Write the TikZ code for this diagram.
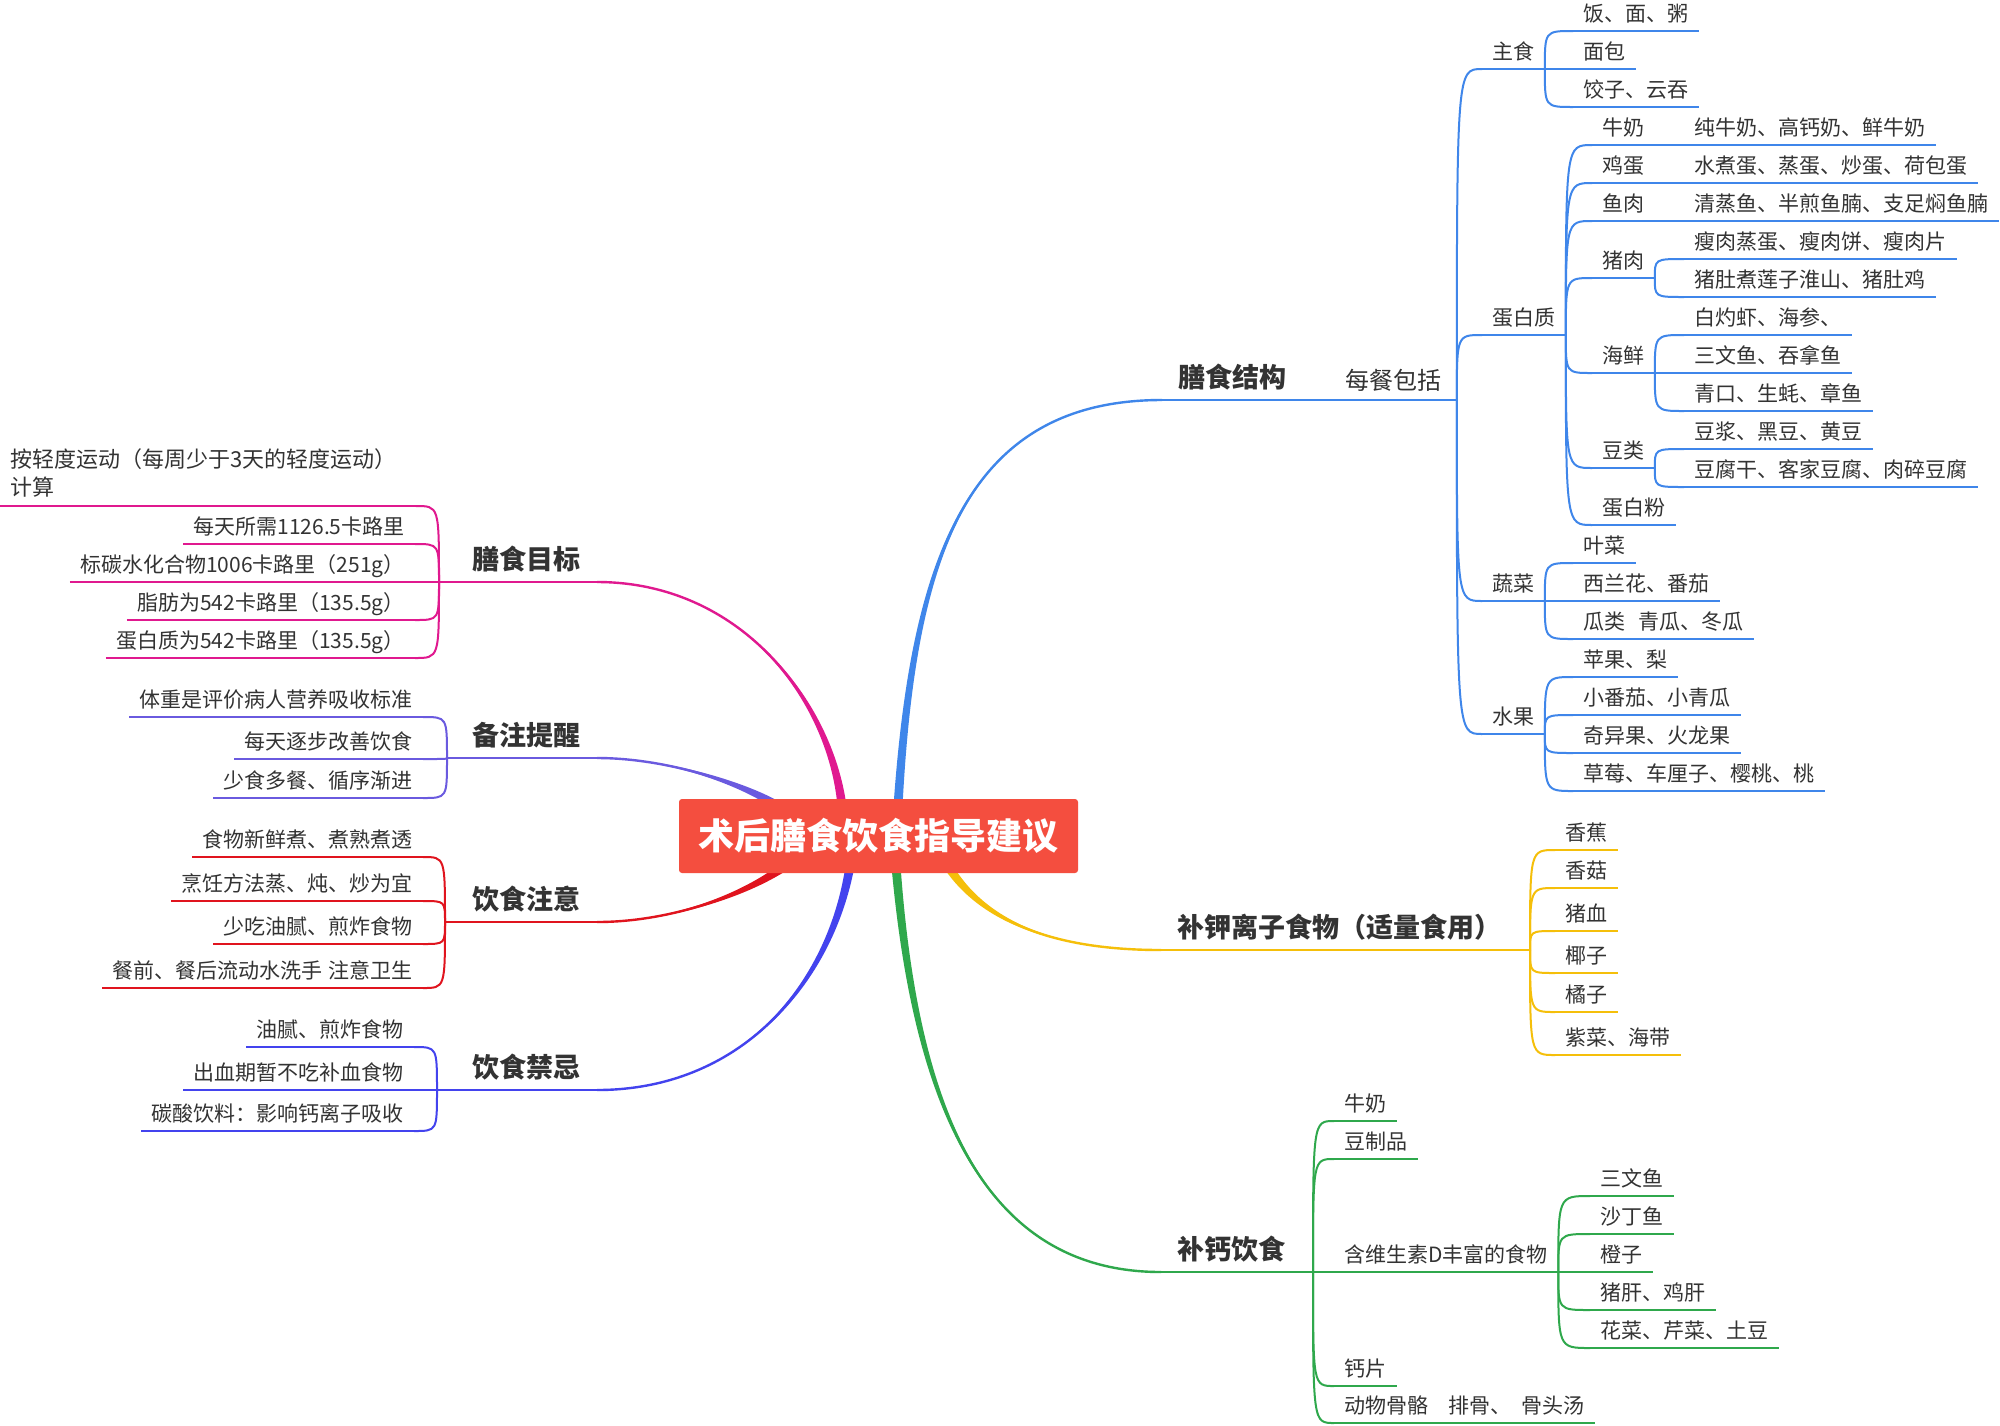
\documentclass[tikz,border=0pt]{standalone}
\usepackage{fontspec}
\setmainfont{Noto Sans CJK SC}
\usetikzlibrary{calc}
\pgfdeclarelayer{bg}
\pgfsetlayers{bg,main}
\definecolor{txt}{HTML}{333333}
\definecolor{cB}{HTML}{3F86EA}
\definecolor{cM}{HTML}{E0198F}
\definecolor{cP}{HTML}{6A5ADF}
\definecolor{cR}{HTML}{E0141E}
\definecolor{cV}{HTML}{4343EE}
\definecolor{cG}{HTML}{2FA84C}
\definecolor{cY}{HTML}{F5BF0A}
\definecolor{cRoot}{HTML}{F44E3F}
\tikzset{
 leaf/.style={font=\fontsize{10.5}{13}\selectfont, text=txt, inner xsep=5pt, inner ysep=0pt, text depth=4.5pt, anchor=south west},
 leafl/.style={leaf, anchor=south east},
 head/.style={font=\fontsize{13.5}{16}\selectfont\bfseries, text=txt, inner xsep=8pt, inner ysep=0pt, text depth=6.3pt},
 thinl/.style={line width=1pt},
}
\newcommand{\undl}[2]{\draw[thinl,#1] (#2.south west) -- (#2.south east);}
\newcommand{\fanc}[3]{\draw[thinl,#1] (#2) .. controls (#2 |- #3) .. (#3);}
\newcommand{\brnch}[6]{%
 \fill[#1] ($#2+#6$) .. controls ($#3+0.5*#6$) and #4 .. #5 .. controls #4 and ($#3-0.5*#6$) .. ($#2-#6$) -- cycle;
 \draw[#1, line width=1.2pt] #2 .. controls #3 and #4 .. #5;}
\begin{document}
\begin{tikzpicture}[x=0.5pt,y=-0.5pt]
\useasboundingbox (0,0) rectangle (2000,1425);
% root
\node[fill=cRoot, rounded corners=1.5pt, minimum width=199.5pt, minimum height=37pt, inner sep=0pt, text=white, font=\fontsize{18}{20}\selectfont\bfseries] (root) at (878.5,836) {术后膳食饮食指导建议};

% ===== blue: 膳食结构 =====
\node[head, anchor=south west] (h1) at (1162,400) {膳食结构};
\node[font=\fontsize{12}{14}\selectfont, text=txt, inner xsep=7.5pt, inner ysep=0pt, text depth=5pt, anchor=south west] (mc) at (1330,400) {每餐包括};
\undl{cB}{h1}\undl{cB}{mc}
\draw[thinl,cB] (h1.south east) -- (mc.south west);
\node[leaf] (zs) at (1482,69) {主食};
\node[leaf] (dbz) at (1482,335) {蛋白质};
\node[leaf] (sc) at (1482,601) {蔬菜};
\node[leaf] (sg) at (1482,734) {水果};
\foreach \n in {zs,dbz,sc,sg}{\undl{cB}{\n}\fanc{cB}{mc.south east}{\n.south west}}
% 主食
\node[leaf] (f1) at (1573,31) {饭、面、粥};
\node[leaf] (f2) at (1573,69) {面包};
\node[leaf] (f3) at (1573,107) {饺子、云吞};
\foreach \n in {f1,f2,f3}{\undl{cB}{\n}\fanc{cB}{zs.south east}{\n.south west}}
% 蛋白质
\node[leaf] (nn) at (1592,145) {牛奶};
\node[leaf] (jd) at (1592,183) {鸡蛋};
\node[leaf] (yr) at (1592,221) {鱼肉};
\node[leaf] (zr) at (1592,278) {猪肉};
\node[leaf] (hx) at (1592,373) {海鲜};
\node[leaf] (dl) at (1592,468) {豆类};
\node[leaf] (dbf) at (1592,525) {蛋白粉};
\foreach \n in {nn,jd,yr,zr,hx,dl,dbf}{\undl{cB}{\n}\fanc{cB}{dbz.south east}{\n.south west}}
\node[leaf] (nn1) at (1684,145) {纯牛奶、高钙奶、鲜牛奶};
\node[leaf] (jd1) at (1684,183) {水煮蛋、蒸蛋、炒蛋、荷包蛋};
\node[leaf] (yr1) at (1684,221) {清蒸鱼、半煎鱼腩、支足焖鱼腩};
\node[leaf] (zr1) at (1684,259) {瘦肉蒸蛋、瘦肉饼、瘦肉片};
\node[leaf] (zr2) at (1684,297) {猪肚煮莲子淮山、猪肚鸡};
\node[leaf] (hx1) at (1684,335) {白灼虾、海参、};
\node[leaf] (hx2) at (1684,373) {三文鱼、吞拿鱼};
\node[leaf] (hx3) at (1684,411) {青口、生蚝、章鱼};
\node[leaf] (dl1) at (1684,449) {豆浆、黑豆、黄豆};
\node[leaf] (dl2) at (1684,487) {豆腐干、客家豆腐、肉碎豆腐};
\foreach \n in {nn1,jd1,yr1,zr1,zr2,hx1,hx2,hx3,dl1,dl2}{\undl{cB}{\n}}
\fanc{cB}{nn.south east}{nn1.south west}
\fanc{cB}{jd.south east}{jd1.south west}
\fanc{cB}{yr.south east}{yr1.south west}
\fanc{cB}{zr.south east}{zr1.south west}
\fanc{cB}{zr.south east}{zr2.south west}
\fanc{cB}{hx.south east}{hx1.south west}
\fanc{cB}{hx.south east}{hx2.south west}
\fanc{cB}{hx.south east}{hx3.south west}
\fanc{cB}{dl.south east}{dl1.south west}
\fanc{cB}{dl.south east}{dl2.south west}
% 蔬菜
\node[leaf] (v1) at (1573,563) {叶菜};
\node[leaf] (v2) at (1573,601) {西兰花、番茄};
\node[leaf] (v3) at (1573,639) {瓜类\hspace{6.5pt}青瓜、冬瓜};
\foreach \n in {v1,v2,v3}{\undl{cB}{\n}\fanc{cB}{sc.south east}{\n.south west}}
% 水果
\node[leaf] (g1) at (1573,677) {苹果、梨};
\node[leaf] (g2) at (1573,715) {小番茄、小青瓜};
\node[leaf] (g3) at (1573,753) {奇异果、火龙果};
\node[leaf] (g4) at (1573,791) {草莓、车厘子、樱桃、桃};
\foreach \n in {g1,g2,g3,g4}{\undl{cB}{\n}\fanc{cB}{sg.south east}{\n.south west}}

% ===== yellow =====
\node[head, anchor=south west] (h2) at (1161,950) {补钾离子食物（适量食用）};
\coordinate (k0) at (1530,950);
\undl{cY}{h2}
\draw[thinl,cY] (h2.south east) -- (k0);
\node[leaf] (k1) at (1555,850) {香蕉};
\node[leaf] (k2) at (1555,888) {香菇};
\node[leaf] (k3) at (1555,931) {猪血};
\node[leaf] (k4) at (1555,973) {椰子};
\node[leaf] (k5) at (1555,1012) {橘子};
\node[leaf] (k6) at (1555,1055) {紫菜、海带};
\foreach \n in {k1,k2,k3,k4,k5,k6}{\undl{cY}{\n}\fanc{cY}{k0}{\n.south west}}

% ===== green =====
\node[head, anchor=south west] (h3) at (1161,1272) {补钙饮食};
\coordinate (c0) at (1313,1272);
\undl{cG}{h3}
\draw[thinl,cG] (h3.south east) -- (c0);
\node[leaf] (c1) at (1334,1121) {牛奶};
\node[leaf] (c2) at (1334,1159) {豆制品};
\node[leaf] (c3) at (1334,1272) {含维生素D丰富的食物};
\node[leaf] (c4) at (1334,1386) {钙片};
\node[leaf] (c5) at (1334,1423) {动物骨骼\hspace{10pt}排骨、\hspace{5pt}骨头汤};
\foreach \n in {c1,c2,c3,c4,c5}{\undl{cG}{\n}\fanc{cG}{c0}{\n.south west}}
\node[leaf] (d1) at (1590,1196) {三文鱼};
\node[leaf] (d2) at (1590,1234) {沙丁鱼};
\node[leaf] (d3) at (1590,1272) {橙子};
\node[leaf] (d4) at (1590,1310) {猪肝、鸡肝};
\node[leaf] (d5) at (1590,1348) {花菜、芹菜、土豆};
\foreach \n in {d1,d2,d3,d4,d5}{\undl{cG}{\n}\fanc{cG}{c3.south east}{\n.south west}}

% ===== magenta: 膳食目标 =====
\node[head, anchor=south east] (h4) at (597,582) {膳食目标};
\coordinate (m0) at (439,582);
\undl{cM}{h4}
\draw[thinl,cM] (h4.south west) -- (m0);
\node[leaf, anchor=south west, text width=197.5pt, align=left, text depth=19pt, font=\fontsize{11}{14}\selectfont] (m1) at (0,506) {按轻度运动（每周少于3天的轻度运动）\\计算};
\node[leafl] (m2) at (415,544) {每天所需1126.5卡路里};
\node[leafl] (m3) at (415,582) {标碳水化合物1006卡路里（251g）};
\node[leafl] (m4) at (415,620) {脂肪为542卡路里（135.5g）};
\node[leafl] (m5) at (415,658) {蛋白质为542卡路里（135.5g）};
\foreach \n in {m1,m2,m3,m4,m5}{\undl{cM}{\n}\fanc{cM}{m0}{\n.south east}}

% ===== purple: 备注提醒 =====
\node[head, anchor=south east] (h5) at (597,758) {备注提醒};
\coordinate (p0) at (447,758);
\undl{cP}{h5}
\draw[thinl,cP] (h5.south west) -- (p0);
\node[leafl] (p1) at (423,717) {体重是评价病人营养吸收标准};
\node[leafl] (p2) at (423,759) {每天逐步改善饮食};
\node[leafl] (p3) at (423,798) {少食多餐、循序渐进};
\foreach \n in {p1,p2,p3}{\undl{cP}{\n}\fanc{cP}{p0}{\n.south east}}

% ===== red: 饮食注意 =====
\node[head, anchor=south east] (h6) at (597,922) {饮食注意};
\coordinate (r0) at (445,922);
\undl{cR}{h6}
\draw[thinl,cR] (h6.south west) -- (r0);
\node[leafl] (r1) at (423,857) {食物新鲜煮、煮熟煮透};
\node[leafl] (r2) at (423,901) {烹饪方法蒸、炖、炒为宜};
\node[leafl] (r3) at (423,944) {少吃油腻、煎炸食物};
\node[leafl] (r4) at (423,988) {餐前、餐后流动水洗手\hspace{3pt}注意卫生};
\foreach \n in {r1,r2,r3,r4}{\undl{cR}{\n}\fanc{cR}{r0}{\n.south east}}

% ===== violet: 饮食禁忌 =====
\node[head, anchor=south east] (h7) at (597,1090) {饮食禁忌};
\coordinate (w0) at (437,1090);
\undl{cV}{h7}
\draw[thinl,cV] (h7.south west) -- (w0);
\node[leafl] (w1) at (414,1047) {油腻、煎炸食物};
\node[leafl] (w2) at (414,1090) {出血期暂不吃补血食物};
\node[leafl] (w3) at (414,1131) {碳酸饮料：影响钙离子吸收};
\foreach \n in {w1,w2,w3}{\undl{cV}{\n}\fanc{cV}{w0}{\n.south east}}

% ===== main branches =====
\coordinate (sB) at (898,806);
\coordinate (sM) at (842,806);
\coordinate (sP) at (778,806);
\coordinate (sR) at (785,866);
\coordinate (sV) at (850,866);
\coordinate (sG) at (896,866);
\coordinate (sY) at (948,866);
\begin{pgfonlayer}{bg}
\fill[white] (0,0) rectangle (2000,1425);
\brnch{cB}{(sB)}{(913,560)}{(965,400)}{(h1.south west)}{(4.5,0)}
\brnch{cM}{(sM)}{(830,700)}{(740,582)}{(h4.south east)}{(4.5,0)}
\brnch{cP}{(sP)}{(740,782)}{(665,758)}{(h5.south east)}{(2.4,-3.8)}
\brnch{cR}{(sR)}{(745,895)}{(670,922)}{(h6.south east)}{(2.7,3.7)}
\brnch{cV}{(sV)}{(830,985)}{(740,1090)}{(h7.south east)}{(4.4,0.7)}
\brnch{cG}{(sG)}{(915,1100)}{(980,1272)}{(h3.south west)}{(4.5,-0.4)}
\brnch{cY}{(sY)}{(985,925)}{(1060,950)}{(h2.south west)}{(3.8,-2.4)}
\end{pgfonlayer}
\end{tikzpicture}
\end{document}
